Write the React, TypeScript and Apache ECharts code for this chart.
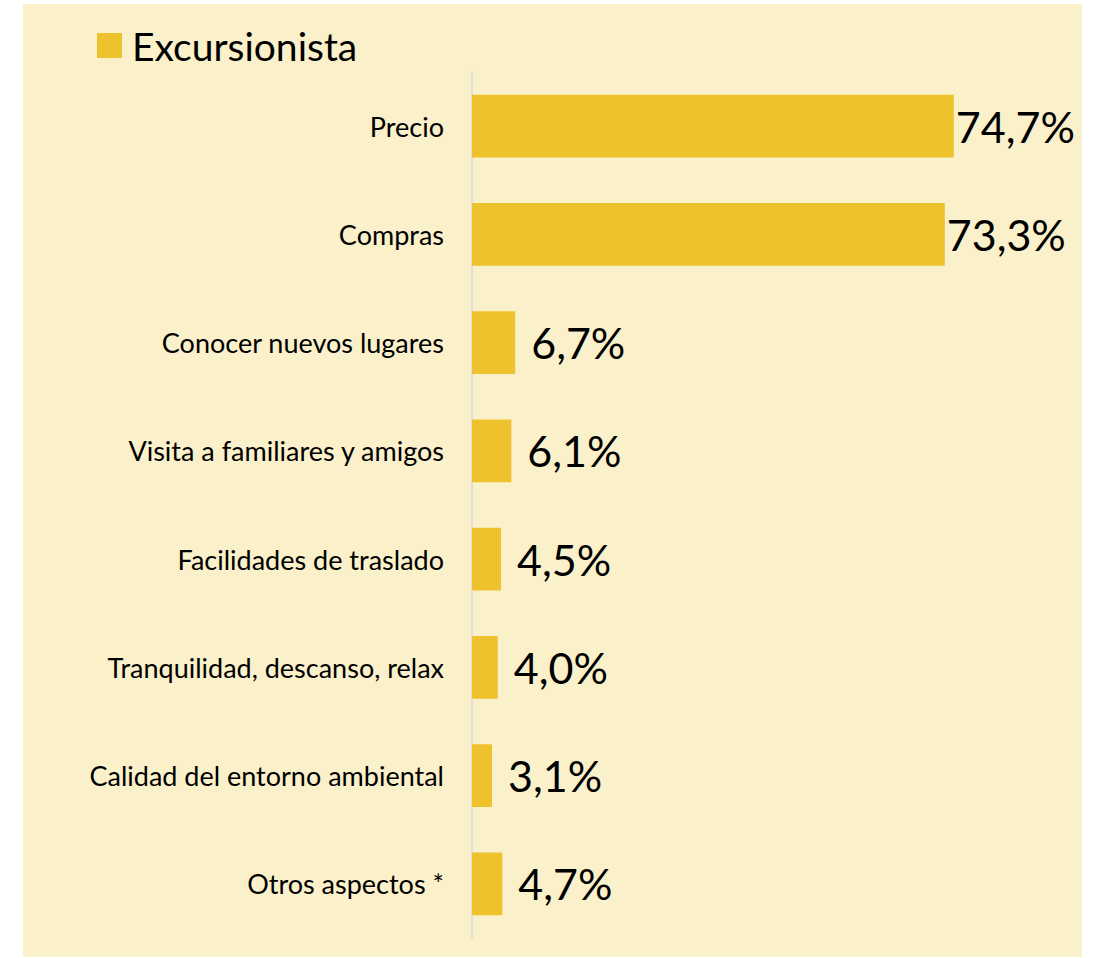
import React, { useEffect, useRef } from "react";
import * as echarts from "echarts";

const categories = [
  "Precio",
  "Compras",
  "Conocer nuevos lugares",
  "Visita a familiares y amigos",
  "Facilidades de traslado",
  "Tranquilidad, descanso, relax",
  "Calidad del entorno ambiental",
  "Otros aspectos *",
];
const values = [74.7, 73.3, 6.7, 6.1, 4.5, 4.0, 3.1, 4.7];
const seriesName = "Excursionista";

const FONT = "Lato, 'Open Sans', sans-serif";
const BAR = "#EEC22C";

export default function App() {
  const ref = useRef<HTMLDivElement>(null);
  useEffect(() => {
    if (!ref.current) return;
    const chart = echarts.init(ref.current, undefined, { renderer: "svg" });
    chart.setOption({
      animation: false,
      backgroundColor: "#ffffff",
      graphic: [
        {
          type: "rect",
          z: -10,
          silent: true,
          shape: { x: 23, y: 4, width: 1059, height: 953 },
          style: { fill: "#FAF0CA" },
        },
      ],
      legend: {
        left: 97,
        top: 26,
        padding: 0,
        itemWidth: 25,
        itemHeight: 25,
        icon: "rect",
        data: [seriesName],
        textStyle: {
          fontFamily: FONT,
          fontSize: 39,
          color: "#000",
          padding: [0, 0, 0, 5],
        },
      },
      grid: { left: 472, top: 72, width: 516, height: 866, containLabel: false },
      xAxis: {
        type: "value",
        min: 0,
        max: 80,
        show: false,
      },
      yAxis: {
        type: "category",
        inverse: true,
        data: categories,
        axisLine: { show: true, lineStyle: { color: "#D9D9D9", width: 1.5 } },
        axisTick: { show: false },
        splitLine: { show: false },
        axisLabel: {
          margin: 28,
          fontFamily: FONT,
          fontSize: 27,
          color: "#000",
        },
      },
      series: [
        {
          name: seriesName,
          type: "bar",
          barCategoryGap: "42%",
          itemStyle: { color: BAR },
          data: values.map((v, i) => ({
            value: v,
            label: { distance: i < 2 ? 2 : 16 },
          })),
          label: {
            show: true,
            position: "right",
            fontFamily: FONT,
            fontSize: 43,
            color: "#000",
            formatter: (p: any) => p.value.toFixed(1).replace(".", ",") + "%",
          },
        },
      ],
    });
    return () => chart.dispose();
  }, []);
  return (
    <div
      ref={ref}
      style={{ position: "fixed", left: 0, top: 0, width: 1096, height: 958 }}
    />
  );
}
